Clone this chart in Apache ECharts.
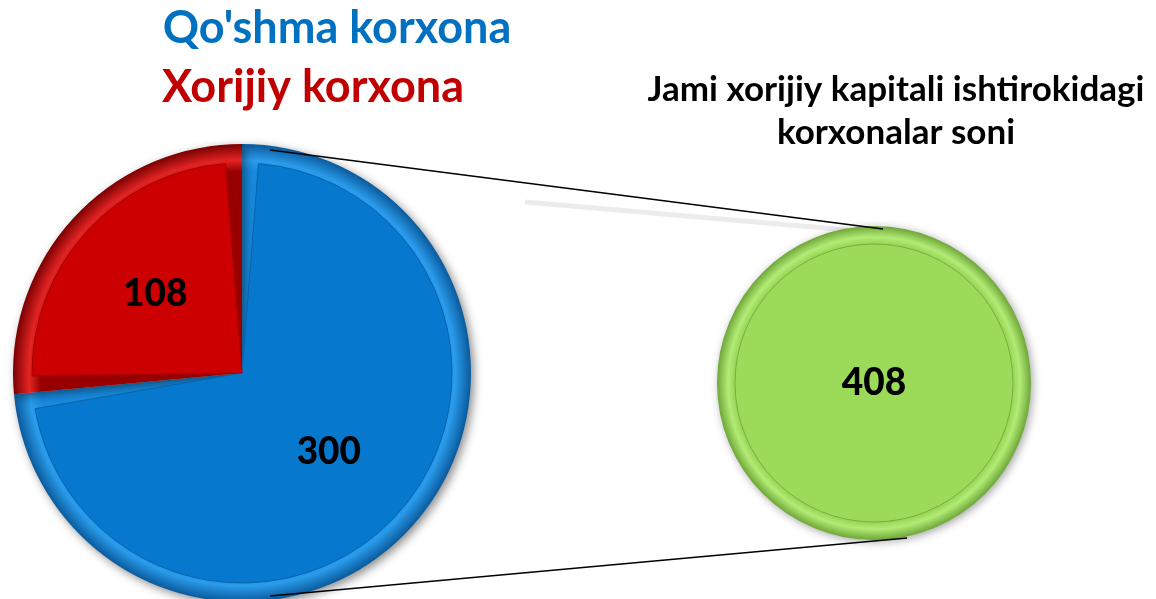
<!DOCTYPE html>
<html><head><meta charset="utf-8">
<script src="https://cdn.jsdelivr.net/npm/echarts@6/dist/echarts.min.js"></script>
<style>html,body{margin:0;padding:0;background:#fff}#c{width:1156px;height:599px}</style>
</head><body><div id="c"></div>
<script>
const categories = ["Qo'shma korxona", "Xorijiy korxona"];
const values = [300, 108];
const totalLabel = ["Jami xorijiy kapitali ishtirokidagi", "korxonalar soni"];
const totalValue = [408];

const FONT = 'Lato';
const P1 = {cx: 242, cy: 373, r: 229};
const P2 = {cx: 874, cy: 383, r: 157};
const flat = {blue: '#0679cf', red: '#cc0000', green: '#9cdb5a'};
const bevel = {
  blue: ['#1789dc', '#2a9cec', '#0a5a9c'],
  red: ['#980000', '#e42424', '#7a0000'],
  green: ['#92d250', '#b2ec76', '#6ea637']
};
const innerLine = {blue: '#0a62a8', red: '#a50000', green: '#78b040'};
function ring(p, c) {
  return {type: 'radial', x: p.cx, y: p.cy, r: p.r, global: true,
    colorStops: [{offset: 0, color: c[0]}, {offset: 0.88, color: c[0]}, {offset: 0.93, color: c[1]}, {offset: 1, color: c[2]}]};
}
const keys = ['blue', 'red'];
const chart = echarts.init(document.getElementById('c'));
const labelStyle = {fontFamily: FONT, fontWeight: 900, fontSize: 37, color: '#000'};
chart.setOption({
  animation: false,
  series: [
    {type: 'pie', center: [P1.cx, P1.cy], radius: P1.r, startAngle: 90, clockwise: true,
      silent: true, z: 2,
      data: categories.map((n, i) => ({name: n, value: values[i],
        itemStyle: {color: ring(P1, bevel[keys[i]]), borderWidth: 0,
          shadowBlur: 10, shadowColor: 'rgba(0,0,0,0.45)', shadowOffsetX: 3, shadowOffsetY: 3}})),
      label: {show: false}, labelLine: {show: false}},
    {type: 'pie', center: [P1.cx, P1.cy], radius: P1.r - 19, startAngle: 90, clockwise: true,
      silent: true, padAngle: 9, z: 3,
      data: categories.map((n, i) => ({name: n, value: values[i],
        itemStyle: {color: flat[keys[i]], borderWidth: 1, borderColor: innerLine[keys[i]]}})),
      label: {show: false}, labelLine: {show: false}},
    {type: 'pie', center: [P1.cx, P1.cy], radius: P1.r, startAngle: 90, clockwise: true,
      silent: true, z: 5,
      data: categories.map((n, i) => ({name: n, value: values[i], itemStyle: {color: 'rgba(0,0,0,0)'}})),
      label: Object.assign({show: true, position: 'inside', formatter: '{c}'}, labelStyle),
      labelLine: {show: false}},
    {type: 'pie', center: [P2.cx, P2.cy], radius: P2.r, silent: true, z: 2,
      data: totalValue.map(v => ({name: 'Jami', value: v,
        itemStyle: {color: ring(P2, bevel.green), shadowBlur: 8, shadowColor: 'rgba(0,0,0,0.35)', shadowOffsetX: 2, shadowOffsetY: 2}})),
      label: {show: false}, labelLine: {show: false}},
    {type: 'pie', center: [P2.cx, P2.cy], radius: P2.r - 18, silent: true, z: 3,
      data: totalValue.map(v => ({name: 'Jami', value: v,
        itemStyle: {color: flat.green, borderWidth: 1, borderColor: innerLine.green}})),
      label: Object.assign({show: true, position: 'center', formatter: '{c}'}, labelStyle),
      labelLine: {show: false}}
  ],
  graphic: [
    {type: 'text', x: 337, y: 28, z: 10, style: {text: categories[0], fill: '#0070c0', font: 'bold 45px ' + FONT, textAlign: 'center', textVerticalAlign: 'middle'}},
    {type: 'text', x: 313, y: 87, z: 10, style: {text: categories[1], fill: '#c00000', font: 'bold 45px ' + FONT, textAlign: 'center', textVerticalAlign: 'middle'}},
    {type: 'text', x: 896, y: 90, z: 10, style: {text: totalLabel[0], fill: '#000', font: 'bold 35px ' + FONT, textAlign: 'center', textVerticalAlign: 'middle'}},
    {type: 'text', x: 896, y: 133, z: 10, style: {text: totalLabel[1], fill: '#000', font: 'bold 35px ' + FONT, textAlign: 'center', textVerticalAlign: 'middle'}},
    {type: 'line', z: 1, shape: {x1: 525, y1: 202, x2: 848, y2: 230}, style: {stroke: '#ececec', lineWidth: 5}},
    {type: 'line', z: 10, shape: {x1: 270, y1: 150, x2: 883, y2: 229}, style: {stroke: '#000', lineWidth: 1.5}},
    {type: 'line', z: 10, shape: {x1: 270, y1: 596, x2: 907, y2: 538}, style: {stroke: '#000', lineWidth: 1.5}}
  ]
});
</script></body></html>
